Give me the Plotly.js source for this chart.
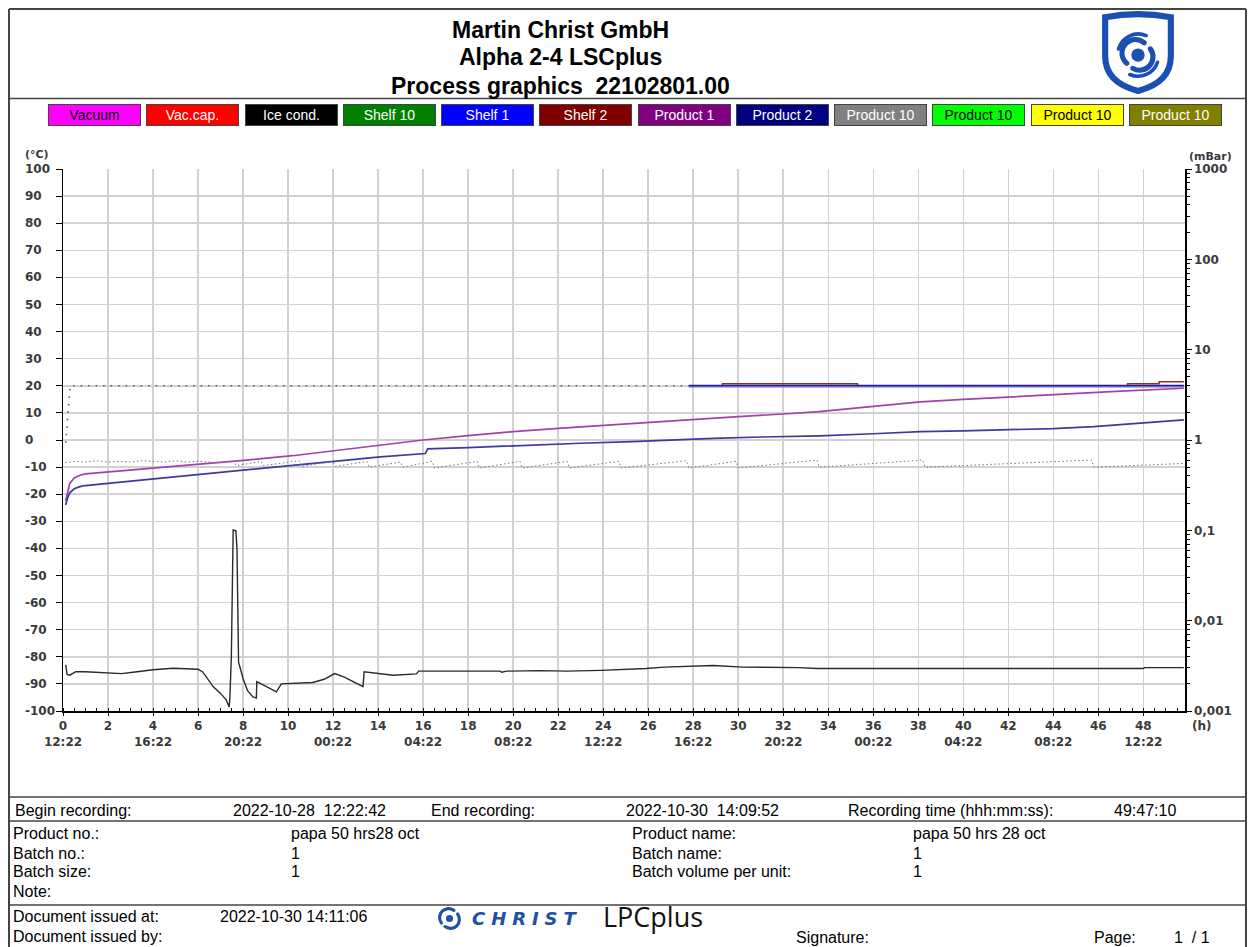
<!DOCTYPE html>
<html>
<head>
<meta charset="utf-8">
<script src="https://cdn.plot.ly/plotly-3.0.1.min.js"></script>
<style>html,body{margin:0;padding:0;background:#fff;}#chart{width:1253px;height:947px;}</style>
</head>
<body>
<div id="chart"></div>
<script>
// ---------------- DATA ----------------
// Product 1 temperature (°C)
const product1Hours = [0.12, 0.2, 0.3, 0.5, 0.75, 1.0, 2.0, 3.0, 4.3, 6.1, 8.15, 10.2, 12.15, 14.1, 16.0, 18.0, 20.0, 22.0, 24.15, 26.0, 28.1, 30.0, 32.0, 33.6, 36.0, 38.1, 40.0, 42.2, 44.0, 45.2, 47.0, 49.8];
const product1Temp  = [-22.5, -19, -16, -14, -13, -12.5, -11.8, -11.2, -10.2, -8.9, -7.4, -5.8, -3.9, -1.8, 0, 1.6, 3.1, 4.3, 5.5, 6.6, 7.6, 8.6, 9.6, 10.5, 12.4, 14.1, 15.0, 16.0, 16.7, 17.2, 18.0, 19.1];
// Product 2 temperature (°C)
const product2Hours = [0.12, 0.2, 0.3, 0.5, 0.75, 1.0, 2.0, 3.0, 4.3, 6.1, 8.15, 10.2, 12.15, 14.1, 16.1, 16.2, 18.0, 20.9, 23.0, 25.3, 27.0, 28.9, 31.0, 33.6, 36.0, 38.1, 40.0, 42.2, 44.0, 45.8, 47.5, 49.8];
const product2Temp  = [-24, -21.5, -19.5, -18, -17.2, -16.8, -16, -15.2, -14.2, -12.7, -11.1, -9.5, -8.0, -6.2, -5, -3.3, -2.8, -1.8, -1.2, -0.6, 0, 0.6, 1.1, 1.5, 2.3, 3.1, 3.4, 3.7, 4.2, 4.9, 5.9, 7.4];
// Ice condenser temperature (°C)
const iceHours = [0.12, 0.18, 0.3, 0.57, 1.0, 2.08, 2.6, 3.2, 4.0, 4.9, 6.0, 6.2, 6.67, 7.0, 7.26, 7.38, 7.41, 7.48, 7.56, 7.68, 7.73, 7.8, 8.0, 8.2, 8.44, 8.59, 8.61, 9.04, 9.48, 9.7, 10.5, 11.1, 11.6, 12.07, 12.5, 13.0, 13.33, 13.38, 14.07, 14.67, 15.7, 15.8, 19.4, 19.5, 19.7, 21.2, 22.4, 23.9, 25.9, 26.7, 28.9, 30.2, 32.7, 33.5, 48.0, 48.05, 49.8];
const iceTemp  = [-83, -86.5, -86.8, -85.5, -85.5, -86.0, -86.2, -85.6, -84.8, -84.2, -84.6, -85.5, -91, -93.5, -96, -98.5, -96, -80, -33.2, -33.5, -40, -82, -88, -92.5, -94.8, -95.2, -89.2, -91, -92.9, -90, -89.8, -89.5, -88.3, -86.2, -87.5, -89.5, -91, -85.5, -86.3, -86.8, -86.3, -85.3, -85.3, -85.7, -85.3, -85.1, -85.3, -85.0, -84.3, -83.8, -83.2, -83.8, -84.0, -84.3, -84.3, -84.0, -84.0];
// Shelf set value (°C), dotted part then solid part
const setHoursDotted = [0.12, 0.2, 0.27, 0.32, 27.6];
const setTempDotted  = [-1, 8, 16, 20, 20];
const setHoursSolid  = [27.8, 49.8];
const setTempSolid   = [20.05, 20.05];
// Shelf 1 (°C)
const shelf1Hours = [27.8, 49.8];
const shelf1Temp  = [19.6, 19.6];
// Shelf 2 (°C)
const shelf2Hours = [27.8, 29.3, 29.3, 35.3, 35.3, 47.3, 47.3, 48.7, 48.7, 49.8];
const shelf2Temp  = [20.05, 20.05, 20.8, 20.8, 20.05, 20.05, 20.8, 20.8, 21.5, 21.5];
// Vacuum (mbar)
const vacuumHours = [0.1, 0.5, 1.0, 1.5, 2.0, 2.5, 3.0, 3.5, 4.0, 4.5, 5.0, 5.5, 6.0, 6.5, 7.0, 7.6, 7.7, 8.8, 8.9, 10.5, 10.6, 12.0, 12.1, 13.5, 13.6, 15.0, 15.1, 16.4, 16.5, 18.4, 18.5, 20.3, 20.4, 22.4, 22.5, 24.7, 24.8, 27.7, 27.8, 29.9, 30.0, 33.5, 33.6, 38.2, 38.3, 45.7, 45.8, 49.8];
const vacuumMbar  = [0.56, 0.58, 0.57, 0.59, 0.57, 0.58, 0.57, 0.59, 0.58, 0.57, 0.59, 0.57, 0.58, 0.57, 0.56, 0.58, 0.52, 0.58, 0.52, 0.59, 0.51, 0.58, 0.51, 0.58, 0.50, 0.57, 0.50, 0.58, 0.49, 0.58, 0.49, 0.58, 0.49, 0.58, 0.49, 0.58, 0.49, 0.59, 0.49, 0.58, 0.49, 0.60, 0.50, 0.60, 0.50, 0.60, 0.50, 0.55];

// Axis tick labels
const hourTicks   = [0, 2, 4, 6, 8, 10, 12, 14, 16, 18, 20, 22, 24, 26, 28, 30, 32, 34, 36, 38, 40, 42, 44, 46, 48];
const clockLabels = ['12:22', '', '16:22', '', '20:22', '', '00:22', '', '04:22', '', '08:22', '', '12:22', '', '16:22', '', '20:22', '', '00:22', '', '04:22', '', '08:22', '', '12:22'];
const tempTicks   = [100, 90, 80, 70, 60, 50, 40, 30, 20, 10, 0, -10, -20, -30, -40, -50, -60, -70, -80, -90, -100];
const pressTicks  = [1000, 100, 10, 1, 0.1, 0.01, 0.001];
const pressLabels = ['1000', '100', '10', '1', '0,1', '0,01', '0,001'];

// Legend
const legendNames = ['Vacuum', 'Vac.cap.', 'Ice cond.', 'Shelf 10', 'Shelf 1', 'Shelf 2', 'Product 1', 'Product 2', 'Product 10', 'Product 10', 'Product 10', 'Product 10'];
const legendFills = ['#ff00ff', '#ff0000', '#000000', '#008000', '#0000ff', '#800000', '#800080', '#000080', '#808080', '#00ff00', '#ffff00', '#808000'];
const legendInk   = ['#000000', '#ffffff', '#ffffff', '#ffffff', '#ffffff', '#ffffff', '#ffffff', '#ffffff', '#ffffff', '#000000', '#000000', '#ffffff'];

// Header / footer texts
const titleLines = ['Martin Christ GmbH', 'Alpha 2-4 LSCplus', 'Process graphics\u00a0 22102801.00'];
const footerRecording = ['Begin recording:', '2022-10-28\u00a0 12:22:42', 'End recording:', '2022-10-30\u00a0 14:09:52', 'Recording time (hhh:mm:ss):', '49:47:10'];
const footerLabelsLeft  = ['Product no.:', 'Batch no.:', 'Batch size:', 'Note:'];
const footerValuesLeft  = ['papa 50 hrs28 oct', '1', '1', ''];
const footerLabelsRight = ['Product name:', 'Batch name:', 'Batch volume per unit:', ''];
const footerValuesRight = ['papa 50 hrs 28 oct', '1', '1', ''];

// ---------------- LAYOUT HELPERS ----------------
const L = 63, T = 169, W = 1122, H = 542;
const PX = x => (x - L) / W;
const PY = y => (T + H - y) / H;
const sans = 'Liberation Sans, Arial, sans-serif';
const axFont = 'DejaVu Sans, Verdana, sans-serif';
const tickFont = {family: axFont, size: 12, color: '#3a3a3a', weight: 'bold'};

function txt(x, y, text, size, opts) {
  opts = opts || {};
  return Object.assign({
    xref: 'paper', yref: 'paper', x: PX(x), y: PY(y), text: text, showarrow: false,
    xanchor: 'left', yanchor: 'middle',
    font: {family: sans, size: size, color: '#000'}
  }, opts);
}
function hline(y, x0, x1, w) {
  return {type: 'line', xref: 'paper', yref: 'paper', x0: PX(x0), x1: PX(x1), y0: PY(y), y1: PY(y), line: {color: '#444', width: w || 1.5}};
}
function vline(x, y0, y1, w) {
  return {type: 'line', xref: 'paper', yref: 'paper', x0: PX(x), x1: PX(x), y0: PY(y0), y1: PY(y1), line: {color: '#444', width: w || 1.5}};
}

// ---------------- TRACES ----------------
const traces = [
  {x: vacuumHours, y: vacuumMbar, yaxis: 'y2', name: 'Vacuum', mode: 'lines', line: {color: '#777', width: 1, dash: '1.5px,2.5px'}},
  {x: setHoursDotted, y: setTempDotted, name: 'Shelf set', mode: 'lines', line: {color: '#555', width: 1.6, dash: '1.5px,6px'}},
  {x: shelf2Hours, y: shelf2Temp, name: 'Shelf 2', mode: 'lines', line: {color: '#9a2a2a', width: 1.5}},
  {x: setHoursSolid, y: setTempSolid, name: 'Shelf set', mode: 'lines', line: {color: '#2c1a80', width: 1.8}},
  {x: shelf1Hours, y: shelf1Temp, name: 'Shelf 1', mode: 'lines', line: {color: '#5a6af0', width: 1.3}},
  {x: product1Hours, y: product1Temp, name: 'Product 1', mode: 'lines', line: {color: '#a043a6', width: 1.7}},
  {x: product2Hours, y: product2Temp, name: 'Product 2', mode: 'lines', line: {color: '#3a3aa0', width: 1.7}},
  {x: iceHours, y: iceTemp, name: 'Ice cond.', mode: 'lines', line: {color: '#2a2a2a', width: 1.4}}
];
traces.forEach(t => { t.showlegend = false; t.hoverinfo = 'skip'; });

// ---------------- ANNOTATIONS ----------------
const ann = [];
// Title
ann.push(txt(560, 30, '<b>' + titleLines[0] + '</b>', 23, {xanchor: 'center'}));
ann.push(txt(560, 57, '<b>' + titleLines[1] + '</b>', 23, {xanchor: 'center'}));
ann.push(txt(560, 86, '<b>' + titleLines[2] + '</b>', 23, {xanchor: 'center'}));
// Legend boxes
legendNames.forEach((n, i) => {
  const x0 = 48 + i * 98.25;
  ann.push({
    xref: 'paper', yref: 'paper', x: PX(x0), y: PY(115), xanchor: 'left', yanchor: 'middle',
    showarrow: false, text: n, width: 89, height: 18, align: 'center', valign: 'middle',
    bgcolor: legendFills[i], bordercolor: '#444', borderwidth: 1, borderpad: 1,
    font: {family: sans, size: 14, color: legendInk[i]}
  });
});
// Left axis labels (left aligned, as in the original)
tempTicks.forEach(v => {
  ann.push({xref: 'paper', yref: 'y', x: PX(23), y: v, xanchor: 'left', yanchor: 'middle', showarrow: false,
    text: String(v), font: tickFont});
});
ann.push(txt(23, 154, '(°C)', 11, {font: {family: axFont, size: 11, color: '#3a3a3a', weight: 'bold'}}));
ann.push(txt(1187, 156, '(mBar)', 11, {font: {family: axFont, size: 11, color: '#3a3a3a', weight: 'bold'}}));
ann.push(txt(1190, 726, '(h)', 12, {font: tickFont}));

// Footer
const fr = footerRecording;
const rowY = 810;
const fs = 16;
[[13, fr[0]], [231, fr[1]], [429, fr[2]], [624, fr[3]], [846, fr[4]], [1112, fr[5]]].forEach(p => ann.push(txt(p[0], rowY, p[1], fs)));
const rows = [833, 853, 872, 891];
rows.forEach((y, i) => {
  ann.push(txt(11, y, footerLabelsLeft[i], fs));
  if (footerValuesLeft[i]) ann.push(txt(289, y, footerValuesLeft[i], fs));
  if (footerLabelsRight[i]) ann.push(txt(630, y, footerLabelsRight[i], fs));
  if (footerValuesRight[i]) ann.push(txt(911, y, footerValuesRight[i], fs));
});
ann.push(txt(11, 916, 'Document issued at:', fs));
ann.push(txt(218, 916, '2022-10-30 14:11:06', fs));
ann.push(txt(11, 936, 'Document issued by:', fs));
ann.push(txt(794, 937, 'Signature:', fs));
ann.push(txt(1092, 937, 'Page:', fs));
ann.push(txt(1172, 937, '1\u00a0 / 1', fs));
ann.push(txt(470, 918, 'C\u2004H\u2004R\u2004I\u2004S\u2004T', 18, {font: {family: axFont, size: 18, color: '#1f4fa8', weight: 'bold', style: 'italic'}}));
ann.push(txt(601, 916, 'LPCplus', 27, {font: {family: 'Open Sans, sans-serif', size: 27, color: '#111'}}));

// ---------------- SHAPES ----------------
const shapes = [
  hline(9, 9, 1246, 2), vline(9, 9, 947, 2), vline(1246, 9, 947, 2),
  hline(98.5, 9, 1246, 1.5),
  hline(797, 9, 1246, 1.5), hline(821, 9, 1246, 1.5), hline(905, 9, 1246, 1.5)
];

// ---------------- IMAGES (logos) ----------------
const shieldSvg = '<svg xmlns="http://www.w3.org/2000/svg" viewBox="0 0 76 82">' +
  '<path d="M6,6 Q38,0 70,6 L70,44 Q70,70 38,78 Q6,70 6,44 Z" fill="#fff" stroke="#1c4fb4" stroke-width="6"/>' +
  '<circle cx="38" cy="43" r="6.5" fill="#1c4fb4"/>' +
  '<path d="M27,51 A13,13 0 0 1 44,31" fill="none" stroke="#1c4fb4" stroke-width="5" stroke-linecap="round"/>' +
  '<path d="M50,37 A13,13 0 0 1 33,56" fill="none" stroke="#1c4fb4" stroke-width="5" stroke-linecap="round"/>' +
  '<path d="M19,37 A20,20 0 0 1 46,24" fill="none" stroke="#1c4fb4" stroke-width="3.5" stroke-linecap="round"/>' +
  '<path d="M57,50 A20,20 0 0 1 30,62" fill="none" stroke="#1c4fb4" stroke-width="3.5" stroke-linecap="round"/>' +
  '</svg>';
const swirlSvg = '<svg xmlns="http://www.w3.org/2000/svg" viewBox="0 0 30 30">' +
  '<circle cx="15" cy="15" r="4" fill="#1f4fa8"/>' +
  '<path d="M6,20 A10,10 0 0 1 20,6" fill="none" stroke="#1f4fa8" stroke-width="3.5" stroke-linecap="round"/>' +
  '<path d="M24,10 A10,10 0 0 1 10,24" fill="none" stroke="#1f4fa8" stroke-width="3.5" stroke-linecap="round"/>' +
  '</svg>';
const uri = s => 'data:image/svg+xml;charset=utf-8,' + encodeURIComponent(s);
const images = [
  {source: uri(shieldSvg), xref: 'paper', yref: 'paper', x: PX(1099), y: PY(11), sizex: 78 / W, sizey: 84 / H, xanchor: 'left', yanchor: 'top', sizing: 'stretch', layer: 'above'},
  {source: uri(swirlSvg), xref: 'paper', yref: 'paper', x: PX(436), y: PY(905), sizex: 27 / W, sizey: 27 / H, xanchor: 'left', yanchor: 'top', sizing: 'stretch', layer: 'above'}
];

// ---------------- LAYOUT ----------------
const layout = {
  width: 1253, height: 947,
  margin: {l: L, r: 1253 - L - W, t: T, b: 947 - T - H, pad: 0},
  paper_bgcolor: '#fff', plot_bgcolor: '#fff',
  showlegend: false,
  xaxis: {
    range: [0, 49.85], tickmode: 'array', tickvals: hourTicks,
    ticktext: hourTicks.map((h, i) => clockLabels[i] ? h + '<br>' + clockLabels[i] : String(h)),
    ticks: 'outside', ticklen: 3, tickcolor: '#000', tickwidth: 1,
    minor: {tickmode: 'linear', tick0: 0, dtick: 0.5, ticks: 'inside', ticklen: 3, tickcolor: '#000', showgrid: false},
    showgrid: true, gridcolor: '#d2d2d2', gridwidth: 1.5,
    showline: true, linecolor: '#000', linewidth: 1.5, zeroline: false,
    tickfont: tickFont, fixedrange: true
  },
  yaxis: {
    range: [-100, 100], tickmode: 'array', tickvals: tempTicks, showticklabels: false,
    ticks: 'outside', ticklen: 6, tickcolor: '#000', tickwidth: 1,
    showgrid: true, gridcolor: '#d2d2d2', gridwidth: 1.5,
    showline: true, linecolor: '#000', linewidth: 1.5, zeroline: false, fixedrange: true
  },
  yaxis2: {
    type: 'log', range: [-3, 3], overlaying: 'y', side: 'right',
    tickmode: 'array', tickvals: pressTicks, ticktext: pressLabels,
    ticks: 'outside', ticklen: 5, tickcolor: '#000', tickwidth: 1,
    minor: {tickmode: 'array', tickvals: [2,3,4,5,6,7,8,9].flatMap(m => [0.001, 0.01, 0.1, 1, 10, 100].map(d => +(m * d).toPrecision(3))), ticks: 'outside', ticklen: 3, tickcolor: '#000', showgrid: false},
    showgrid: false, showline: true, linecolor: '#000', linewidth: 1.5, zeroline: false,
    tickfont: tickFont, fixedrange: true
  },
  annotations: ann, shapes: shapes, images: images
};

Plotly.newPlot('chart', traces, layout, {displayModeBar: false, staticPlot: true});
</script>
</body>
</html>
